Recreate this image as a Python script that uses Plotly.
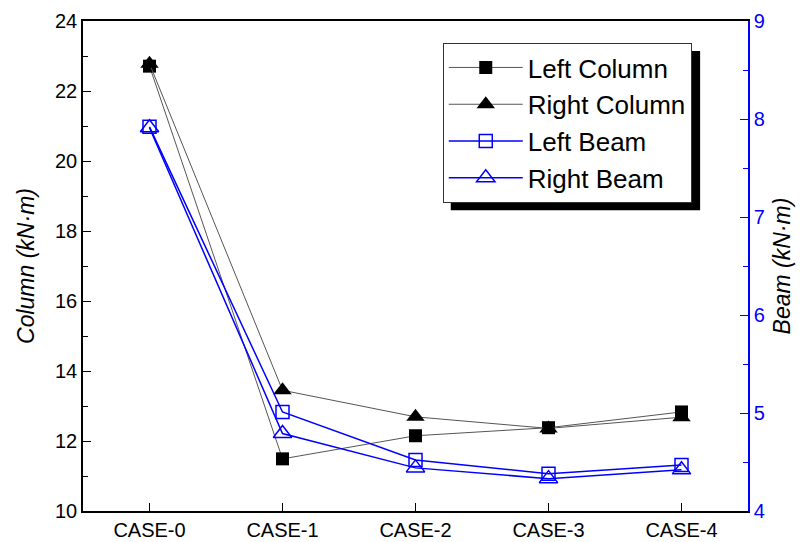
import plotly.graph_objects as go

cases = ["CASE-0", "CASE-1", "CASE-2", "CASE-3", "CASE-4"]
left_column = [22.71, 11.49, 12.15, 12.38, 12.83]
right_column = [22.78, 13.45, 12.69, 12.36, 12.68]
left_beam = [7.92, 5.01, 4.52, 4.38, 4.47]
right_beam = [7.91, 4.79, 4.44, 4.33, 4.42]

fig = go.Figure()
fig.add_trace(go.Scatter(x=cases, y=left_column, name="Left Column", mode="lines+markers",
                         line=dict(color="#555555", width=1),
                         marker=dict(symbol="square", size=13, color="black")))
fig.add_trace(go.Scatter(x=cases, y=right_column, name="Right Column", mode="lines+markers",
                         line=dict(color="#555555", width=1),
                         marker=dict(symbol="triangle-up", size=16, color="black")))
fig.add_trace(go.Scatter(x=cases, y=left_beam, name="Left Beam", mode="lines+markers", yaxis="y2",
                         line=dict(color="blue", width=1.5),
                         marker=dict(symbol="square-open", size=13, color="blue", line=dict(width=1.5))))
fig.add_trace(go.Scatter(x=cases, y=right_beam, name="Right Beam", mode="lines+markers", yaxis="y2",
                         line=dict(color="blue", width=1.5),
                         marker=dict(symbol="triangle-up-open", size=16, color="blue", line=dict(width=1.5))))

font = "Arial, Liberation Sans, sans-serif"
fig.update_layout(
    width=800, height=542,
    margin=dict(l=83, r=52, t=21, b=31, autoexpand=False),
    paper_bgcolor="white", plot_bgcolor="white",
    font=dict(family=font, color="black"),
    showlegend=True,
    legend=dict(x=0.541, y=0.955, xanchor="left", yanchor="top",
                bgcolor="white", bordercolor="#333333", borderwidth=1,
                font=dict(size=26, family=font), tracegroupgap=0, itemwidth=74),
    xaxis=dict(type="category", range=[-0.5, 4.5], showline=True, linecolor="black", linewidth=1.5,
               mirror=True, ticks="inside", ticklen=8, tickcolor="black", showgrid=False,
               tickfont=dict(size=20), zeroline=False, automargin=False),
    yaxis=dict(range=[10, 24], dtick=2, showline=True, linecolor="black", linewidth=1.5,
               ticks="inside", ticklen=8, tickcolor="black", showgrid=False, zeroline=False,
               tickfont=dict(size=20), automargin=False,
               minor=dict(dtick=1, ticks="inside", ticklen=5, tickcolor="black"),
               title=dict(text="<i>Column (kN·m)</i>", font=dict(size=23), standoff=14)),
    yaxis2=dict(range=[4, 9], dtick=1, overlaying="y", side="right", showline=True, linecolor="blue",
                linewidth=1.5, ticks="inside", ticklen=8, tickcolor="blue", showgrid=False, zeroline=False,
                tickfont=dict(size=20, color="blue"), automargin=False,
                minor=dict(dtick=0.5, ticks="inside", ticklen=5, tickcolor="blue"),
                title=dict(text="<i>Beam (kN·m)</i>", font=dict(size=23, color="black"), standoff=10)),
    shapes=[dict(type="rect", xref="paper", yref="paper", x0=0.553, x1=0.928, y0=0.614, y1=0.939,
                 fillcolor="black", line=dict(width=0), layer="above")],
)
fig.write_html("out.html", config={"displayModeBar": False},
               post_script="document.body.style.margin='0';document.body.style.overflow='hidden';")
